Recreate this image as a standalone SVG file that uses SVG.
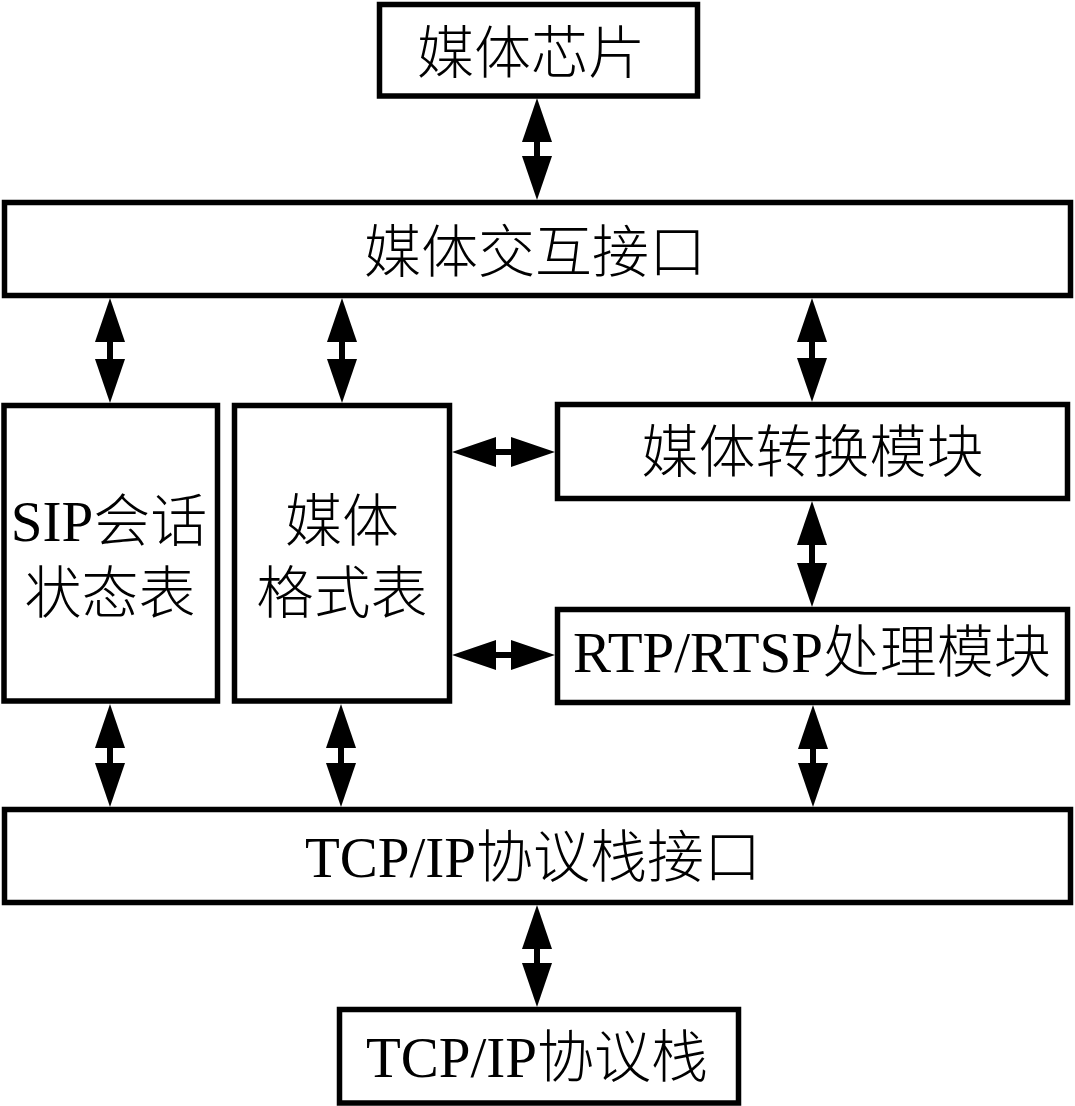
<svg xmlns="http://www.w3.org/2000/svg" width="1075" height="1106" viewBox="0 0 1075 1106">
  <style>
    .box { fill: #ffffff; stroke: #000000; stroke-width: 5.5; }
    .lbl { font-family: "Liberation Serif", "Noto Sans CJK SC", serif; font-size: 57px; font-weight: 300; fill: #000000; text-anchor: middle; }
    .conn { stroke: #000000; stroke-width: 6; fill: none; marker-start: url(#ah); marker-end: url(#ah); }
  </style>
  <defs>
    <marker id="ah" viewBox="0 0 44 30" refX="24" refY="15" markerWidth="44" markerHeight="30" markerUnits="userSpaceOnUse" orient="auto-start-reverse">
      <path d="M0,0 L44,15 L0,30 Z" fill="#000000"/>
    </marker>
  </defs>
  <rect width="1075" height="1106" fill="#ffffff"/>

  <g id="connectors">
    <line class="conn" x1="537" y1="118" x2="537" y2="180"/>
    <line class="conn" x1="110" y1="318" x2="110" y2="383"/>
    <line class="conn" x1="342" y1="318" x2="342" y2="383"/>
    <line class="conn" x1="812" y1="318" x2="812" y2="382"/>
    <line class="conn" x1="812" y1="521" x2="812" y2="587"/>
    <line class="conn" x1="472" y1="452" x2="535" y2="452"/>
    <line class="conn" x1="472" y1="655" x2="535" y2="655"/>
    <line class="conn" x1="110" y1="724" x2="110" y2="787"/>
    <line class="conn" x1="341" y1="724" x2="341" y2="787"/>
    <line class="conn" x1="813" y1="725" x2="813" y2="787"/>
    <line class="conn" x1="537" y1="925" x2="537" y2="987"/>
  </g>

  <g id="media-chip">
    <rect class="box" x="379.5" y="4.5" width="318" height="91.5"/>
    <text class="lbl" x="531" y="73">媒体芯片</text>
  </g>

  <g id="media-interface">
    <rect class="box" x="4.5" y="202.5" width="1066" height="93"/>
    <text class="lbl" x="535" y="272">媒体交互接口</text>
  </g>

  <g id="sip-session-table">
    <rect class="box" x="4" y="405.5" width="213.5" height="295.5"/>
    <text class="lbl" x="109" y="541">SIP会话</text>
    <text class="lbl" x="110" y="613">状态表</text>
  </g>

  <g id="media-format-table">
    <rect class="box" x="234.5" y="405.5" width="215" height="295.5"/>
    <text class="lbl" x="342" y="541">媒体</text>
    <text class="lbl" x="342" y="613">格式表</text>
  </g>

  <g id="media-conversion">
    <rect class="box" x="557.5" y="404.5" width="510" height="94"/>
    <text class="lbl" x="812.5" y="472">媒体转换模块</text>
  </g>

  <g id="rtp-rtsp">
    <rect class="box" x="557.5" y="609.5" width="510" height="93"/>
    <text class="lbl" x="812" y="672">RTP/RTSP处理模块</text>
  </g>

  <g id="tcpip-interface">
    <rect class="box" x="4.5" y="809.5" width="1066" height="93"/>
    <text class="lbl" x="533" y="877">TCP/IP协议栈接口</text>
  </g>

  <g id="tcpip-stack">
    <rect class="box" x="339.5" y="1009.5" width="399" height="93.5"/>
    <text class="lbl" x="537" y="1077">TCP/IP协议栈</text>
  </g>
</svg>
